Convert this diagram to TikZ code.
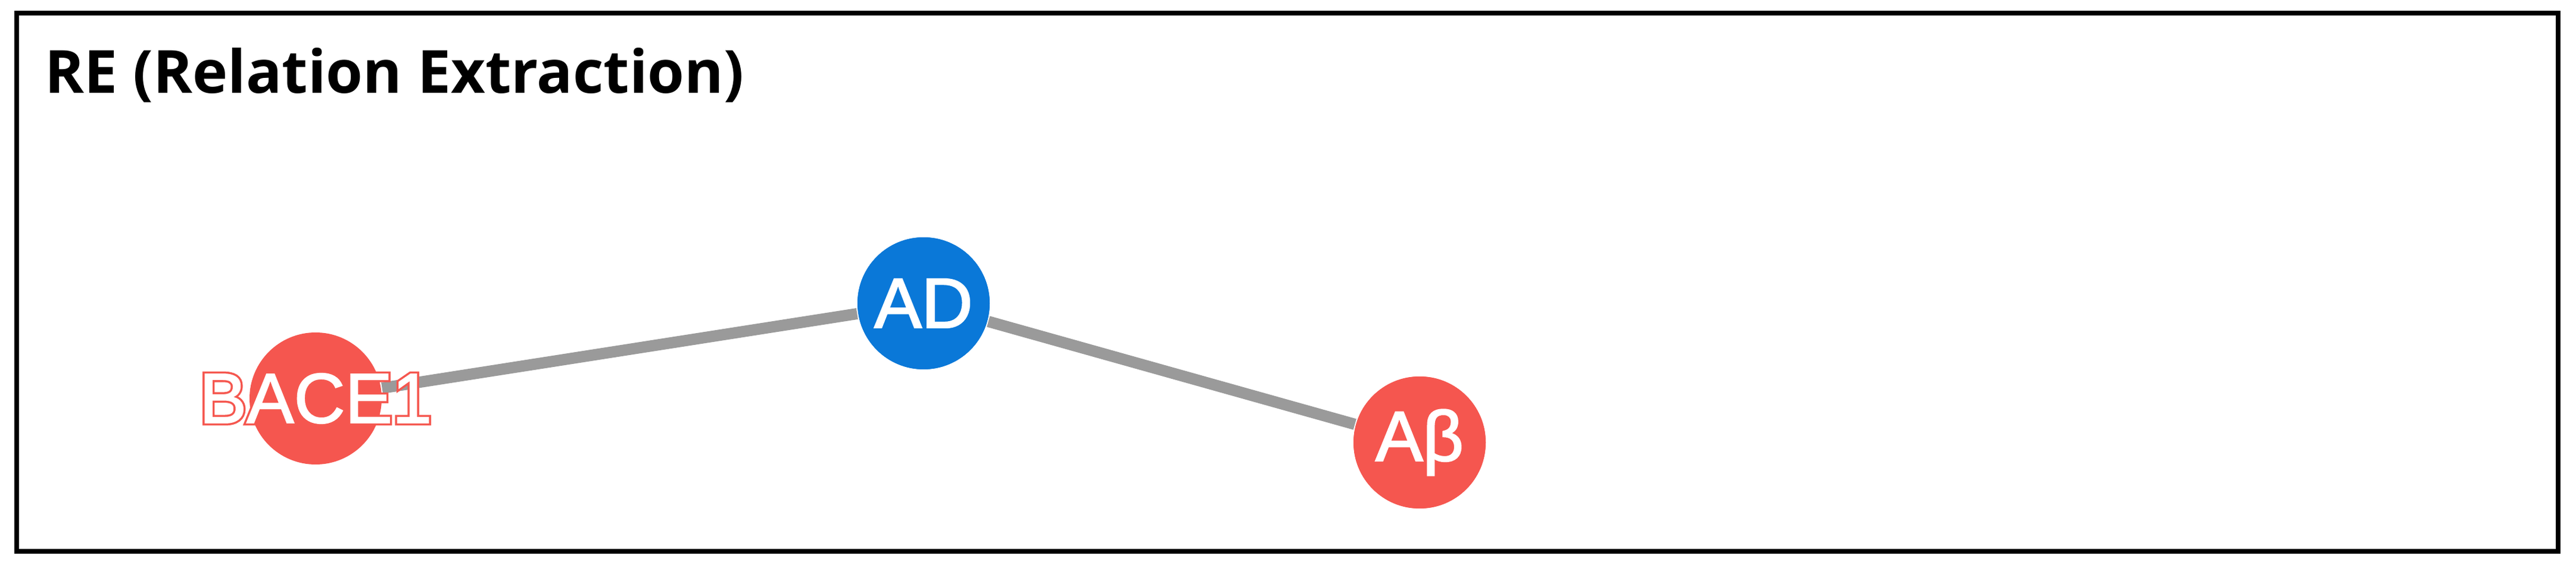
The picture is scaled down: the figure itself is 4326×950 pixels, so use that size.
\documentclass[tikz,border=0pt]{standalone}
\usepackage{fontspec}
\setmainfont{Liberation Sans}
\newfontfamily\nodefont{Liberation Sans}
\newfontfamily\titlefont{Open Sans}
\newcommand\strokedtext[3]{{\special{pdf:literal direct 2 Tr #1 w #2 RG}#3\special{pdf:literal direct 0 Tr}}}
\definecolor{nred}{HTML}{F5564F}
\definecolor{nblue}{HTML}{0A78D8}
\definecolor{edgegray}{HTML}{9A9A9A}
\begin{document}
\begin{tikzpicture}[x=0.1pt,y=-0.1pt,
  ent/.style={circle,minimum size=22.2pt,inner sep=0pt,fill=nred},
  dis/.style={circle,minimum size=22.2pt,inner sep=0pt,fill=nblue},
  lab/.style={text=white,font=\nodefont\fontsize{11.9}{14}\selectfont},
  rel/.style={draw=edgegray,line width=1.9pt}]
\useasboundingbox (0,0) rectangle (4326,950);
\draw[line width=0.8pt] (28,22) rectangle (4296,927);
\node[anchor=base west,font=\titlefont\bfseries\fontsize{10}{12}\selectfont,inner sep=0pt] (title) at (74,157) {RE (Relation Extraction)};
\node[ent] (bace) at (530,670) {};
\node[dis] (ad) at (1551,510) {};
\node[ent] (ab) at (2384,744) {};
\draw[rel] (bace) -- (ad);
\draw[rel] (ad) -- (ab);
\node[dis,lab] at (ad) {\strokedtext{0.25}{1 1 1}{AD}};
\node[ent,lab] at (ab) {\strokedtext{0.25}{1 1 1}{Aβ}};
\node[lab,inner sep=0pt] (bacetxt) at (530,670) {\strokedtext{0.9}{0.96 0.34 0.31}{BACE1}};
\node[lab,inner sep=0pt] (bacefill) at (530,670) {\strokedtext{0.2}{1 1 1}{BACE1}};
\end{tikzpicture}
\end{document}
